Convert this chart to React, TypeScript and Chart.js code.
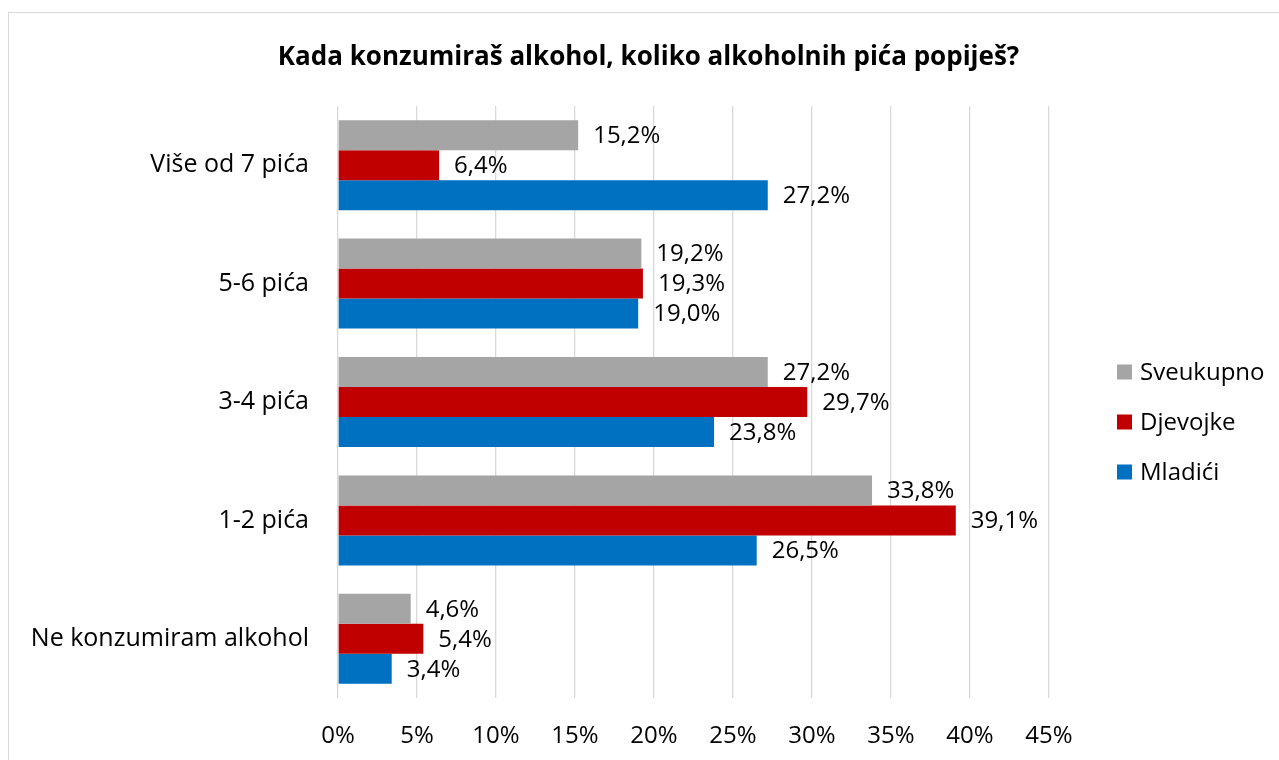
import React, { useEffect, useRef } from "react";
import { Chart, registerables } from "chart.js";

Chart.register(...registerables);

const TITLE = "Kada konzumiraš alkohol, koliko alkoholnih pića popiješ?";
const categories = ["Više od 7 pića", "5-6 pića", "3-4 pića", "1-2 pića", "Ne konzumiram alkohol"];
const seriesNames = ["Sveukupno", "Djevojke", "Mladići"];
const sveukupno = [15.2, 19.2, 27.2, 33.8, 4.6];
const djevojke = [6.4, 19.3, 29.7, 39.1, 5.4];
const mladici = [27.2, 19.0, 23.8, 26.5, 3.4];
const seriesColors = ["#A5A5A5", "#C00000", "#0070C0"];
const xTicks = [0, 5, 10, 15, 20, 25, 30, 35, 40, 45];

const FONT = "'Open Sans'";
const FS = 24;

const fmt = (v: number) => v.toFixed(1).replace(".", ",") + "%";

const dataLabels = {
  id: "dataLabels",
  afterDatasetsDraw(chart: any) {
    const ctx = chart.ctx;
    ctx.save();
    ctx.font = `${FS}px ${FONT}`;
    ctx.fillStyle = "#000";
    ctx.textAlign = "left";
    ctx.textBaseline = "middle";
    chart.data.datasets.forEach((ds: any, i: number) => {
      const meta = chart.getDatasetMeta(i);
      meta.data.forEach((bar: any, j: number) => {
        ctx.fillText(fmt(ds.data[j]), bar.x + 15, bar.y + 1);
      });
    });
    ctx.restore();
  },
};

const customTitle = {
  id: "customTitle",
  afterDraw(chart: any) {
    const ctx = chart.ctx;
    ctx.save();
    ctx.font = `bold 26px ${FONT}`;
    ctx.fillStyle = "#000";
    ctx.textAlign = "center";
    ctx.textBaseline = "alphabetic";
    ctx.fillText(TITLE, 638.5, 51);
    ctx.restore();
  },
};

const customLegend = {
  id: "customLegend",
  afterDraw(chart: any) {
    const ctx = chart.ctx;
    ctx.save();
    ctx.font = `${FS}px ${FONT}`;
    ctx.textAlign = "left";
    ctx.textBaseline = "middle";
    const x0 = chart.chartArea.right + 68;
    const yStart = 358;
    chart.data.datasets.forEach((ds: any, i: number) => {
      const y = yStart + i * 50;
      ctx.fillStyle = ds.backgroundColor;
      ctx.fillRect(x0, y - 7.5, 15, 15);
      ctx.fillStyle = "#000";
      ctx.fillText(ds.label, x0 + 23, y + 1);
    });
    ctx.restore();
  },
};

export default function App() {
  const ref = useRef<HTMLCanvasElement>(null);
  useEffect(() => {
    if (!ref.current) return;
    const chart = new Chart(ref.current, {
      type: "bar",
      data: {
        labels: categories,
        datasets: [
          { label: seriesNames[0], data: sveukupno, backgroundColor: seriesColors[0] },
          { label: seriesNames[1], data: djevojke, backgroundColor: seriesColors[1] },
          { label: seriesNames[2], data: mladici, backgroundColor: seriesColors[2] },
        ],
      },
      options: {
        indexAxis: "y",
        responsive: false,
        animation: false,
        layout: { padding: { top: 92, right: 230, bottom: 0, left: 0 } },
        datasets: { bar: { categoryPercentage: 0.76, barPercentage: 1 } },
        plugins: {
          legend: { display: false },
          tooltip: { enabled: false },
          title: { display: false },
        },
        scales: {
          x: {
            min: 0,
            max: 45,
            afterBuildTicks(scale: any) {
              scale.ticks = xTicks.map((v) => ({ value: v }));
            },
            afterFit(scale: any) {
              scale.height = 62;
            },
            ticks: {
              color: "#000",
              font: { family: FONT, size: FS },
              padding: 24,
              callback: (v: any) => v + "%",
            },
            grid: { color: "#D9D9D9", lineWidth: 1.3, drawTicks: false },
            border: { display: false },
          },
          y: {
            afterFit(scale: any) {
              scale.width = 328;
            },
            ticks: {
              color: "#000",
              font: { family: FONT, size: 25 },
              padding: 29,
            },
            grid: { display: false, drawTicks: false },
            border: { display: false },
          },
        },
      },
      plugins: [dataLabels, customTitle, customLegend],
    });
    return () => chart.destroy();
  }, []);

  return (
    <div style={{ position: "absolute", left: 0, top: 0, width: 1279, height: 760, overflow: "hidden", background: "#fff" }}>
      <div style={{ position: "absolute", left: 8, top: 12, width: 1290, height: 800, border: "1.5px solid #D9D9D9" }} />
      <canvas ref={ref} width={1269} height={746} style={{ position: "absolute", left: 10, top: 14, width: 1269, height: 746 }} />
    </div>
  );
}
